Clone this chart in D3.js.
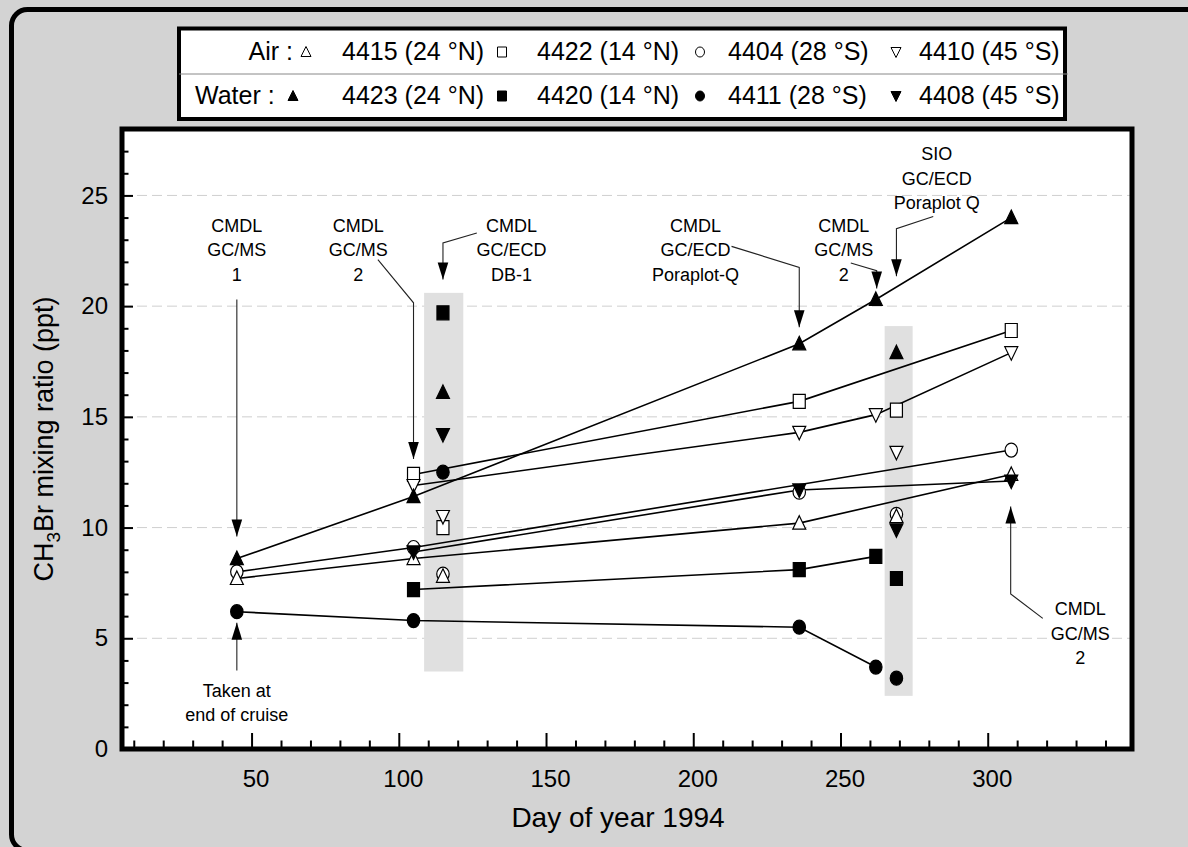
<!DOCTYPE html>
<html>
<head>
<meta charset="utf-8" />
<title>CH3Br mixing ratio 1994</title>
<script src="https://d3js.org/d3.v7.min.js"></script>
<style>
    html, body { margin: 0; padding: 0; overflow: hidden; background: #fff; }
    svg { display: block; font-family: "Liberation Sans", Arial, sans-serif; }
    .grid line { stroke: #cfcfcf; stroke-width: 1; stroke-dasharray: 10 5; }
    .axis .tick line { stroke: #000; stroke-width: 2; }
    .axis text { font-size: 24px; fill: #000; font-family: "Liberation Sans", Arial, sans-serif; }
    .series { fill: none; stroke: #000; stroke-width: 1.6; }
    .leader { fill: none; stroke: #222; stroke-width: 1.1; }
    .note { font-size: 18px; fill: #000; text-anchor: middle; }
    .legend text { font-size: 25px; fill: #000; }
</style>
</head>
<body>
<script>

// ---- data: [day of year, CH3Br ppt] ----
// air samples (open symbols), joined by lines
let air4415 = [[45, 7.7], [105, 8.6], [236, 10.2], [308, 12.4]];
let air4422 = [[105, 12.4], [236, 15.7], [308, 18.9]];
let air4404 = [[45, 8.0], [105, 9.1], [308, 13.5]];
let air4410 = [[105, 11.9], [236, 14.3], [262, 15.1], [308, 17.9]];
// water samples (filled symbols), joined by lines
let water4423 = [[45, 8.6], [105, 11.4], [236, 18.3], [262, 20.3], [308, 24.0]];
let water4420 = [[105, 7.2], [236, 8.1], [262, 8.7]];
let water4411 = [[45, 6.2], [105, 5.8], [236, 5.5], [262, 3.7]];
let water4408 = [[105, 8.9], [236, 11.7], [308, 12.1]];

// single points not on the lines (GC/ECD DB-1 and SIO runs)
let loose4415 = [[115, 7.8], [269, 10.5]];
let loose4422 = [[115, 10.0], [269, 15.3]];
let loose4404 = [[115, 7.9], [236, 11.6], [269, 10.6]];
let loose4410 = [[115, 10.5], [269, 13.4]];
let loose4423 = [[115, 16.1], [269, 17.9]];
let loose4420 = [[115, 19.7], [269, 7.7]];
let loose4411 = [[115, 12.5], [269, 3.2]];
let loose4408 = [[115, 14.2], [269, 9.9]];

// shaded bands: [day from, day to], [ppt from, ppt to]
let bandDays = [[108.6, 121.9], [265, 274.5]];
let bandPpt = [[3.5, 20.6], [2.4, 19.1]];

let xMajor = [50, 100, 150, 200, 250, 300];
let yMajor = [0, 5, 10, 15, 20, 25];

// ---- layout ----
let W = 1188, H = 847;
let plot = { left: 122, top: 129, right: 1132, bottom: 749 };

let x = d3.scaleLinear().domain([6, 349]).range([plot.left, plot.right]);
let y = d3.scaleLinear().domain([0, 28]).range([plot.bottom, plot.top]);

let svg = d3.select("body").append("svg")
    .attr("width", W)
    .attr("height", H);

// outer panel: only its left/top edges and two corners fall inside the picture
svg.append("rect")
    .attr("width", W).attr("height", H)
    .attr("fill", "#d3d3d3");
svg.append("path")
    .attr("d", "M1220,850.5H27.5A16,16 0 0 1 11.5,834.5V25.5A16,16 0 0 1 27.5,9.5H1220")
    .attr("fill", "none")
    .attr("stroke", "#000")
    .attr("stroke-width", 5);

// plot background
svg.append("rect")
    .attr("x", plot.left).attr("y", plot.top)
    .attr("width", plot.right - plot.left)
    .attr("height", plot.bottom - plot.top)
    .attr("fill", "#fff");

// grid
svg.append("g").attr("class", "grid")
    .selectAll("line")
    .data(yMajor.filter(d => d > 0))
    .enter().append("line")
    .attr("x1", plot.left).attr("x2", plot.right)
    .attr("y1", d => y(d)).attr("y2", d => y(d));

// bands
svg.selectAll("rect.band")
    .data(bandDays)
    .enter().append("rect")
    .attr("class", "band")
    .attr("x", d => x(d[0]))
    .attr("width", d => x(d[1]) - x(d[0]))
    .attr("y", (d, i) => y(bandPpt[i][1]))
    .attr("height", (d, i) => y(bandPpt[i][0]) - y(bandPpt[i][1]))
    .attr("fill", "#e0e0e0");

// symbol shapes
let shapes = {
    up: "M0,-7.5L6.5,6L-6.5,6Z",
    down: "M0,7.5L6.5,-6L-6.5,-6Z",
    square: "M-6,-7H6V7H-6Z",
    circle: "M-6.2,0A6.2,7 0 1,0 6.2,0A6.2,7 0 1,0 -6.2,0Z"
};

// drawing order: circles under triangles etc.
let series = [
    { line: air4404, loose: loose4404, shape: "circle", filled: false },
    { line: air4415, loose: loose4415, shape: "up", filled: false },
    { line: air4422, loose: loose4422, shape: "square", filled: false },
    { line: air4410, loose: loose4410, shape: "down", filled: false },
    { line: water4420, loose: loose4420, shape: "square", filled: true },
    { line: water4411, loose: loose4411, shape: "circle", filled: true },
    { line: water4423, loose: loose4423, shape: "up", filled: true },
    { line: water4408, loose: loose4408, shape: "down", filled: true }
];

let lineGen = d3.line()
    .x(d => x(d[0]))
    .y(d => y(d[1]));

svg.append("g").selectAll("path")
    .data(series)
    .enter().append("path")
    .attr("class", "series")
    .attr("d", d => lineGen(d.line));

series.forEach(s => {
    svg.append("g").selectAll("path")
        .data(s.line.concat(s.loose))
        .enter().append("path")
        .attr("d", shapes[s.shape])
        .attr("transform", d => "translate(" + x(d[0]) + "," + y(d[1]) + ")")
        .attr("fill", s.filled ? "#000" : "#fff")
        .attr("stroke", "#000")
        .attr("stroke-width", 1.2);
});

// ---- annotations (positions in data units) ----
let notes = [
    { text: ["CMDL", "GC/MS", "1"], at: [45, 23.35], path: [[45, 20.3], [45, 9.6]] },
    { text: ["CMDL", "GC/MS", "2"], at: [86.2, 23.35], path: [[92.9, 22.1], [105, 20.15], [105, 13.1]] },
    { text: ["CMDL", "GC/ECD", "DB-1"], at: [138.3, 23.35], path: [[126.5, 23.3], [115, 22.85], [115, 21.2]] },
    { text: ["CMDL", "GC/ECD", "Poraplot-Q"], at: [200.8, 23.35], path: [[213, 22.7], [236, 21.75], [236, 19.05]] },
    { text: ["CMDL", "GC/MS", "2"], at: [251.1, 23.35], path: [[253.5, 21.95], [262.3, 21.6], [262.3, 20.8]] },
    { text: ["SIO", "GC/ECD", "Poraplot Q"], at: [282.7, 26.6], path: [[281.5, 24.05], [269, 23.5], [269, 21.35]] },
    { text: ["Taken at", "end of cruise"], at: [45, 2.35], path: [[45, 3.55], [45, 5.7]] },
    { text: ["CMDL", "GC/MS", "2"], at: [331.4, 6.05], path: [[318.7, 5.9], [307.8, 7.0], [307.8, 10.95]] }
];

let noteG = svg.append("g");

notes.forEach(n => {
    let pts = n.path.map(p => [x(p[0]), y(p[1])]);
    noteG.append("path")
        .attr("class", "leader")
        .attr("d", d3.line()(pts));

    // arrow head at the last point
    let a = pts[pts.length - 2], b = pts[pts.length - 1];
    let ang = Math.atan2(b[1] - a[1], b[0] - a[0]);
    let len = 17, half = 5.3;
    let bx = b[0] - len * Math.cos(ang), by = b[1] - len * Math.sin(ang);
    let head = [
        b,
        [bx + half * Math.sin(ang), by - half * Math.cos(ang)],
        [bx - half * Math.sin(ang), by + half * Math.cos(ang)]
    ];
    noteG.append("path")
        .attr("d", d3.line()(head) + "Z")
        .attr("fill", "#000");

    let t = noteG.append("text")
        .attr("class", "note")
        .attr("x", x(n.at[0]))
        .attr("y", y(n.at[1]));
    n.text.forEach((s, i) => {
        t.append("tspan")
            .attr("x", x(n.at[0]))
            .attr("dy", i === 0 ? 0 : 24.5)
            .text(s);
    });
});

// ---- axes ----
let xMinor = d3.range(10, 350, 10).filter(d => d % 50 !== 0);
let yMinor = d3.range(1, 28).filter(d => d % 5 !== 0);

svg.append("g").attr("class", "axis")
    .attr("transform", "translate(0," + plot.bottom + ")")
    .call(d3.axisBottom(x).tickValues(xMinor).tickSize(-8.5).tickFormat(""))
    .call(g => g.select(".domain").remove());

svg.append("g").attr("class", "axis")
    .attr("transform", "translate(0," + plot.bottom + ")")
    .call(d3.axisBottom(x).tickValues(xMajor).tickSize(-16).tickPadding(21))
    .call(g => g.select(".domain").remove())
    .call(g => g.selectAll("text").attr("dx", 4));

svg.append("g").attr("class", "axis")
    .attr("transform", "translate(" + plot.left + ",0)")
    .call(d3.axisLeft(y).tickValues(yMinor).tickSize(-6.5).tickFormat(""))
    .call(g => g.select(".domain").remove());

svg.append("g").attr("class", "axis")
    .attr("transform", "translate(" + plot.left + ",0)")
    .call(d3.axisLeft(y).tickValues(yMajor).tickSize(-11).tickPadding(14))
    .call(g => g.select(".domain").remove());

// plot frame
svg.append("rect")
    .attr("x", plot.left).attr("y", plot.top)
    .attr("width", plot.right - plot.left)
    .attr("height", plot.bottom - plot.top)
    .attr("fill", "none")
    .attr("stroke", "#000")
    .attr("stroke-width", 5);

// axis titles
svg.append("text")
    .attr("x", (plot.left + plot.right) / 2 - 9)
    .attr("y", 827)
    .attr("text-anchor", "middle")
    .attr("font-size", 28)
    .text("Day of year 1994");

let yt = svg.append("text")
    .attr("transform", "translate(53," + ((plot.top + plot.bottom) / 2) + ") rotate(-90)")
    .attr("text-anchor", "middle")
    .attr("font-size", 27);
yt.append("tspan").text("CH");
yt.append("tspan").attr("font-size", 19).attr("dy", 7).text("3");
yt.append("tspan").attr("dy", -7).text("Br mixing ratio (ppt)");

// ---- legend ----
let legendNames = ["4415 (24 °N)", "4422 (14 °N)", "4404 (28 °S)", "4410 (45 °S)"];
let legendWater = ["4423 (24 °N)", "4420 (14 °N)", "4411 (28 °S)", "4408 (45 °S)"];
let legShapes = {
    up: "M0,-5.5L5,4.5L-5,4.5Z",
    down: "M0,5.5L5,-4.5L-5,-4.5Z",
    square: "M-4.5,-5H4.5V5H-4.5Z",
    circle: "M-4.5,0A4.5,5 0 1,0 4.5,0A4.5,5 0 1,0 -4.5,0Z"
};
let legOrder = ["up", "square", "circle", "down"];
let legTextX = [342, 537, 728, 919];
let legSymX = [306, 502, 700, 896];

let legend = svg.append("g").attr("class", "legend");
legend.append("rect")
    .attr("x", 179).attr("y", 28.5)
    .attr("width", 886).attr("height", 90.5)
    .attr("fill", "#fff")
    .attr("stroke", "#000")
    .attr("stroke-width", 4);
legend.append("line")
    .attr("x1", 179).attr("x2", 1068)
    .attr("y1", 74).attr("y2", 74)
    .attr("stroke", "#888").attr("stroke-width", 1);

legend.append("text").attr("x", 293).attr("y", 60).attr("text-anchor", "end").text("Air :");
legend.append("text").attr("x", 195).attr("y", 104).text("Water :");

[[legendNames, 60, false], [legendWater, 104, true]].forEach(row => {
    legend.append("g").selectAll("text")
        .data(row[0])
        .enter().append("text")
        .attr("x", (d, i) => legTextX[i])
        .attr("y", row[1])
        .text(d => d);
    legend.append("g").selectAll("path")
        .data(legOrder)
        .enter().append("path")
        .attr("d", d => legShapes[d])
        .attr("transform", (d, i) => "translate(" + (row[2] && i === 0 ? 293 : legSymX[i]) + "," + (row[1] - 8) + ")")
        .attr("fill", row[2] ? "#000" : "#fff")
        .attr("stroke", "#000")
        .attr("stroke-width", 1);
});

</script>
</body>
</html>
